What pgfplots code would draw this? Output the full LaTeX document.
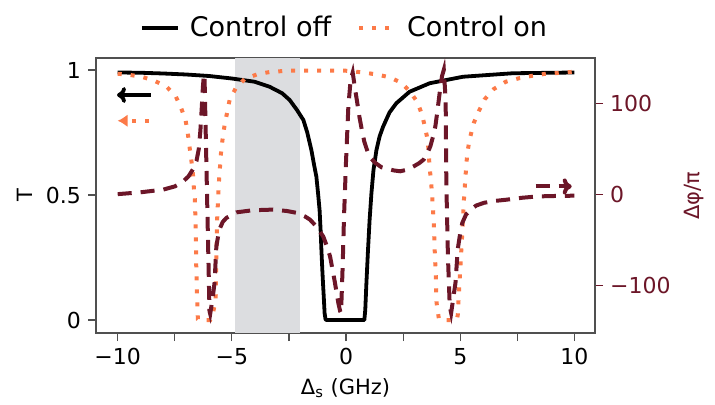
\documentclass[border=0pt]{standalone}
\usepackage{fontspec}
\setmainfont{DejaVu Sans}
\usepackage{pgfplots}
\pgfplotsset{compat=1.18}
\usetikzlibrary{arrows.meta}
\definecolor{ctrlon}{RGB}{252,122,72}
\definecolor{phase}{RGB}{108,22,40}
\definecolor{band}{RGB}{220,221,224}
\definecolor{frame}{RGB}{80,80,80}

\begin{document}
\begin{tikzpicture}
\pgfplotsset{
  base/.style={
    width=249.5pt, height=137.5pt, scale only axis,
    xmin=-10.95, xmax=10.9,
    axis line style={frame, line width=0.6pt},
    tick style={frame, line width=0.6pt},
    tick align=outside, major tick length=4pt, minor tick length=4pt,
    ticklabel style={font=\fontsize{11}{13}\selectfont},
    label style={font=\fontsize{10.5}{12}\selectfont},
  },
  dotsty/.style={ctrlon, line width=2pt, dash pattern=on 2pt off 4.5pt},
  dashsty/.style={phase, line width=2pt, dash pattern=on 7pt off 4.5pt},
}
\begin{axis}[base, name=main,
  xtick pos=bottom, ytick pos=left,
  xtick={-10,-5,0,5,10}, xticklabels={−10,−5,0,5,10},
  minor xtick={-7.5,-2.5,2.5,7.5},
  ymin=-0.052, ymax=1.048,
  ytick={0,0.5,1}, yticklabels={0,0.5,1},
  xlabel={Δ\textsubscript{s} (GHz)}, ylabel={T},
  legend style={at={(0.5,1)}, anchor=south, yshift=5pt, draw=none, fill=none,
    legend columns=2, font=\fontsize{13.5}{16}\selectfont,
    /tikz/every odd column/.append style={column sep=3pt},
    /tikz/every even column/.append style={column sep=11pt}},
  legend image code/.code={\draw[#1] (0pt,0pt) -- (18pt,0pt);},
]
% shaded band
\addplot[fill=band, draw=none, forget plot] coordinates {
  (-4.85,-0.052) (-2.0,-0.052) (-2.0,1.048) (-4.85,1.048)};

% control off
\addplot[black, line width=1.9pt, line join=round] coordinates {
  (-10,0.99) (-9,0.989) (-8,0.986) (-7,0.982) (-6,0.976) (-5,0.966)
  (-4,0.953) (-3.35,0.933) (-2.8,0.907) (-2.47,0.88) (-2.15,0.84)
  (-1.87,0.8) (-1.7,0.75) (-1.52,0.68) (-1.4,0.62) (-1.3,0.573)
  (-1.22,0.5) (-1.16,0.44) (-1.11,0.35) (-1.08,0.28) (-1.04,0.2)
  (-1.01,0.147) (-0.97,0.08) (-0.94,0.027) (-0.9,0.003) (-0.87,0)
  (0.8,0) (0.84,0.04) (0.89,0.147) (0.96,0.28) (1.03,0.4) (1.11,0.507)
  (1.2,0.6) (1.33,0.68) (1.47,0.735) (1.62,0.773) (1.9,0.83) (2.2,0.867)
  (2.78,0.913) (3.66,0.947) (5.12,0.973) (7.3,0.987) (10,0.99)};
\addlegendentry{Control off}

% control on
\addplot[dotsty] coordinates {
  (-10,0.985) (-9.52,0.981) (-8.95,0.973) (-8.4,0.957) (-7.88,0.935)
  (-7.47,0.897) (-7.22,0.847) (-7.03,0.8) (-6.93,0.747) (-6.86,0.696)
  (-6.78,0.643) (-6.71,0.589) (-6.67,0.535) (-6.62,0.482) (-6.58,0.35)
  (-6.56,0.213) (-6.53,0.107) (-6.49,0.003) (-6.45,0) (-5.95,0)
  (-5.83,0.027) (-5.71,0.08) (-5.68,0.254) (-5.64,0.415) (-5.57,0.549)
  (-5.47,0.676) (-5.4,0.73) (-5.32,0.779) (-5.1,0.88) (-4.84,0.926)
  (-4.44,0.964) (-3.85,0.984) (-3.27,0.993) (-2.5,0.997) (-1,0.998)
  (0,0.997) (0.76,0.99) (1.35,0.982) (1.9,0.971) (2.4,0.95) (2.81,0.913)
  (3.13,0.87) (3.33,0.82) (3.47,0.766) (3.58,0.716) (3.66,0.609)
  (3.72,0.555) (3.77,0.495) (3.84,0.39) (3.88,0.28) (3.93,0.174)
  (3.96,0.07) (4.06,0.007) (4.1,0) (4.85,0) (4.89,0.02) (4.94,0.107)
  (5.08,0.335) (5.16,0.48) (5.23,0.576) (5.3,0.66) (5.4,0.72) (5.6,0.79)
  (5.82,0.837) (6.07,0.883) (6.47,0.924) (6.99,0.953) (7.57,0.967)
  (8.16,0.977) (8.67,0.984) (9.26,0.988) (10,0.993)};
\addlegendentry{Control on}

% direction arrows
\addplot[black, line width=1.9pt, -{To[length=4.5pt,width=8pt]}, forget plot]
  coordinates {(-8.56,0.9) (-10.03,0.9)};
\addplot[dotsty, -{Latex[length=5pt,width=6.5pt]}, forget plot]
  coordinates {(-8.65,0.797) (-10,0.797)};
\end{axis}

\begin{axis}[base,
  axis x line=none, axis y line*=right,
  ymin=-152, ymax=150,
  ytick={-100,0,100}, yticklabels={−100,0,100},
  yticklabel style={phase}, ytick style={phase}, ylabel style={phase},
  ylabel={Δφ/π},
]
\addplot[dashsty] coordinates {
  (-10,0.5) (-9,2.5) (-8,5.5) (-7.5,9) (-7.2,13) (-6.9,20) (-6.7,28)
  (-6.55,37) (-6.45,50) (-6.38,70) (-6.32,95) (-6.27,118) (-6.23,130)
  (-6.2,132) (-5.98,-128) (-5.95,-131) (-5.85,-115) (-5.76,-97)
  (-5.68,-57) (-5.6,-45) (-5.54,-38) (-5.4,-30) (-5.24,-25.6) (-4.8,-19.5)
  (-4.1,-17.2) (-3.2,-16.5) (-2.6,-18) (-2.17,-20) (-1.8,-24) (-1.58,-27.5)
  (-1.3,-35) (-1.0,-46) (-0.85,-56) (-0.7,-68) (-0.5,-95) (-0.34,-119)
  (-0.26,-128) (-0.22,-130) (-0.15,-79) (-0.09,-24) (0,38) (0.1,97)
  (0.2,126) (0.29,134) (0.4,115) (0.47,104) (0.58,86) (0.69,71) (0.8,58)
  (0.91,49.5) (1.05,41) (1.27,35) (1.55,30) (1.86,28) (2.1,26.5)
  (2.37,25.6) (2.7,27.5) (2.96,31) (3.2,34.5) (3.4,38.5) (3.55,45)
  (3.69,53) (3.8,63) (3.91,75) (4.0,92) (4.06,104) (4.13,118) (4.2,130)
  (4.28,137) (4.36,104) (4.39,12) (4.46,-68) (4.54,-123) (4.6,-130)
  (4.79,-97) (4.89,-60) (5.0,-42) (5.09,-31) (5.25,-22) (5.45,-16.5)
  (5.7,-12) (6.04,-9) (6.5,-7) (7.06,-5.5) (7.7,-3.5) (8.38,-2)
  (9.2,-1.5) (10,-1.2)};
\addplot[dashsty, -{To[length=4.5pt,width=8pt]}]
  coordinates {(8.3,9) (9.88,9)};
\end{axis}
\path (main.south west) ++(-48pt,-34pt) rectangle ++(357.5pt,200.5pt);
\end{tikzpicture}
\end{document}
